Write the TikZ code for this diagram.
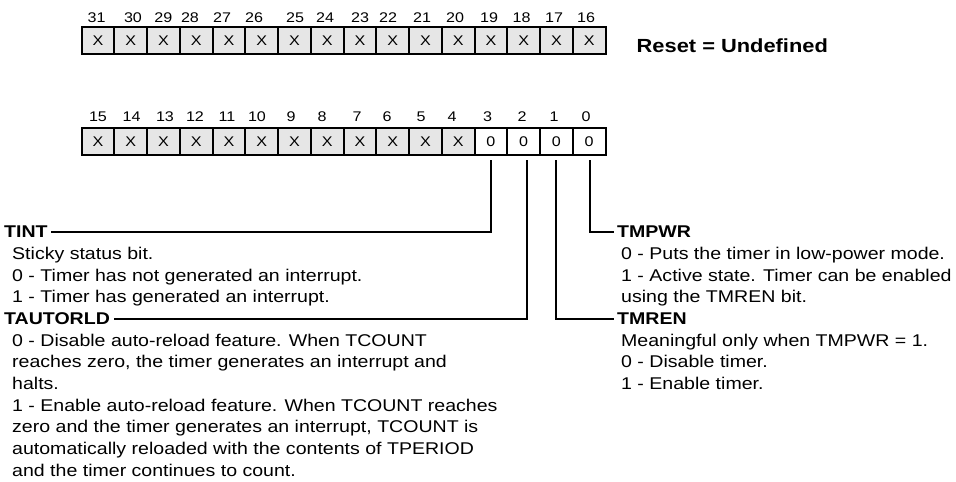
\documentclass[tikz,border=0pt]{standalone}
\usepackage{fontspec}
\setmainfont{Liberation Sans}[FakeStretch=1.15]
\definecolor{cellgray}{HTML}{E6E6E6}
\begin{document}
\begin{tikzpicture}[x=1pt,y=-1pt,
  bitcell/.style={draw=black, line width=2pt, minimum width=32.75pt, minimum height=27pt, inner sep=0pt, outer sep=0pt, font=\fontsize{14}{16}\selectfont},
  xcell/.style={bitcell, fill=cellgray},
  zcell/.style={bitcell, fill=white},
  bitnum/.style={anchor=base, inner sep=0pt, font=\fontsize{14}{16}\selectfont},
  head/.style={anchor=base west, inner sep=3.5pt, font=\fontsize{17}{20}\selectfont\bfseries},
  body/.style={anchor=base west, inner sep=0pt, font=\fontsize{17}{20}\selectfont},
  reset/.style={anchor=base west, inner sep=0pt, font=\fontsize{19}{22}\selectfont\bfseries},
  conn/.style={line width=2pt},
]
\useasboundingbox (0,0) rectangle (956,482);

% register row 1 (bits 31..16)
\foreach \i in {0,...,15} {
  \pgfmathtruncatemacro\b{31-\i}
  \node[xcell] (c\b) at (97.875+32.75*\i, 40.5) {X};
}
% register row 2 (bits 15..0)
\foreach \i in {0,...,15} {
  \pgfmathtruncatemacro\b{15-\i}
  \ifnum\b>3
    \node[xcell] (c\b) at (97.875+32.75*\i, 141.5) {X};
  \else
    \node[zcell] (c\b) at (97.875+32.75*\i, 141.5) {0};
  \fi
}
% bit numbers
\foreach \xx/\lab in {96.7/31,133/30,163.3/29,190/28,222/27,254/26,295/25,325/24,360/23,388/22,422/21,455/20,489/19,521.5/18,554/17,586/16} {
  \node[bitnum] (n\lab) at (\xx, 22) {\lab};
}
\foreach \xx/\lab in {98/15,131.7/14,165/13,195/12,227/11,257/10,291/9,322/8,357/7,387/6,421/5,452/4,487.5/3,522/2,554/1,586/0} {
  \node[bitnum] (n\lab) at (\xx, 121) {\lab};
}

\node[reset] (rst) at (636.5, 52.8) {Reset = Undefined};

% field headings
\node[head] (tint) at (0.5, 237.6) {TINT};
\node[head] (taut) at (0.5, 324.4) {TAUTORLD};
\node[head] (tmpwr) at (613.5, 237.6) {TMPWR};
\node[head] (tmren) at (613.5, 324.4) {TMREN};

% descriptions
\foreach \t [count=\k] in {Sticky status bit., 0 - Timer has not generated an interrupt., 1 - Timer has generated an interrupt.} {
  \node[body] (tintd\k) at (12, 237.6+21.7*\k) {\t};
}
\foreach \t [count=\k] in {0 - Disable auto-reload feature. When TCOUNT, {reaches zero, the timer generates an interrupt and}, halts., 1 - Enable auto-reload feature. When TCOUNT reaches, {zero and the timer generates an interrupt, TCOUNT is}, automatically reloaded with the contents of TPERIOD, and the timer continues to count.} {
  \node[body] (tautd\k) at (12, 324.4+21.7*\k) {\t};
}
\foreach \t [count=\k] in {0 - Puts the timer in low-power mode., 1 - Active state. Timer can be enabled, using the TMREN bit.} {
  \node[body] (tmpwrd\k) at (621, 237.6+21.7*\k) {\t};
}
\foreach \t [count=\k] in {Meaningful only when TMPWR = 1., 0 - Disable timer., 1 - Enable timer.} {
  \node[body] (tmrend\k) at (621, 324.4+21.7*\k) {\t};
}

% connectors
\draw[conn] ([xshift=0.5pt,yshift=-5pt]c3.south) |- (tint.east);
\draw[conn] ([xshift=3pt,yshift=-5pt]c2.south) |- (taut.east);
\draw[conn] ([yshift=-5pt]c1.south) |- (tmren.west);
\draw[conn] ([xshift=1pt,yshift=-5pt]c0.south) |- (tmpwr.west);
\end{tikzpicture}
\end{document}
